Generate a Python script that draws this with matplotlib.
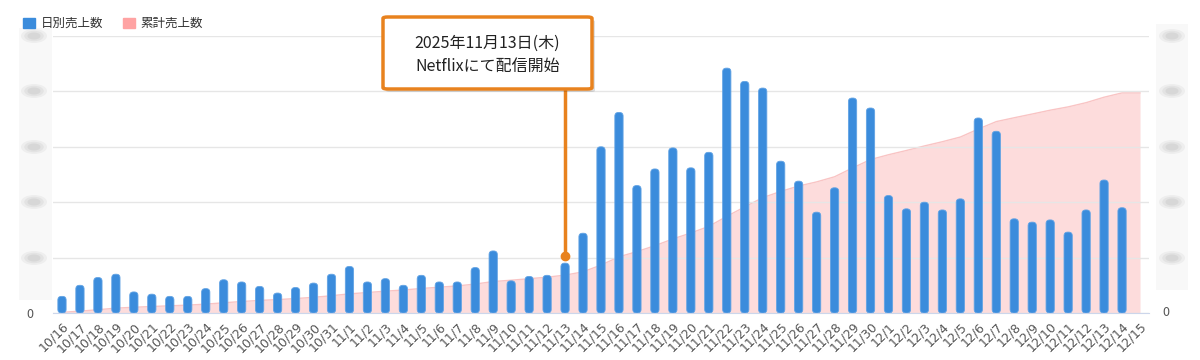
# -*- coding: utf-8 -*-

import numpy as np
import matplotlib
matplotlib.use("Agg")
import matplotlib.pyplot as plt
from matplotlib.patches import FancyBboxPatch, Patch, Ellipse, Rectangle

plt.rcParams["font.family"] = ["Noto Sans CJK JP", "DejaVu Sans"]

dates = [
    "10/16", "10/17", "10/18", "10/19", "10/20", "10/21", "10/22", "10/23",
    "10/24", "10/25", "10/26", "10/27", "10/28", "10/29", "10/30", "10/31",
    "11/1", "11/2", "11/3", "11/4", "11/5", "11/6", "11/7", "11/8", "11/9",
    "11/10", "11/11", "11/12", "11/13", "11/14", "11/15", "11/16", "11/17",
    "11/18", "11/19", "11/20", "11/21", "11/22", "11/23", "11/24", "11/25",
    "11/26", "11/27", "11/28", "11/29", "11/30", "12/1", "12/2", "12/3",
    "12/4", "12/5", "12/6", "12/7", "12/8", "12/9", "12/10", "12/11",
    "12/12", "12/13", "12/14", "12/15",
]
daily_sales = [
    15, 25, 32, 35, 19, 17, 15, 15, 22, 30, 28, 24, 18, 23, 27, 35,
    42, 28, 31, 25, 34, 28, 28, 41, 56, 29, 33, 34, 45, 72, 150, 181,
    115, 130, 149, 131, 145, 221, 209, 203, 137, 119, 91, 113, 194, 185,
    106, 94, 100, 93, 103, 176, 164, 85, 82, 84, 73, 93, 120, 95, 0,
]
# cumulative sales = running total of the daily numbers
total_sales = np.cumsum(daily_sales)

release_idx = dates.index("11/13")
note_text = "2025年11月13日(木)\nNetflixにて配信開始"

blue = "#3b8cdc"
pink_fill = "#fddcdc"
pink_edge = "#f9c4c4"
orange = "#e8821e"

fig = plt.figure(figsize=(12, 3.6), dpi=100)
ax = fig.add_axes([53 / 1200, 47 / 360, 1096 / 1200, 277 / 360])
ax2 = ax.twinx()

x = np.arange(len(dates))

# cumulative area on the right axis
ax2.fill_between(x, 0, total_sales, color=pink_fill, lw=0, zorder=1)
ax2.plot(x, total_sales, color=pink_edge, lw=1, zorder=1)
ax2.set_ylim(0, 6100)
ax2.set_yticks(np.linspace(0, 6100, 6))
ax2.set_yticklabels([])

# put bars on top of the area
ax.set_zorder(ax2.get_zorder() + 1)
ax.patch.set_visible(False)

ax.set_ylim(0, 250)
ax.set_xlim(-0.5, len(dates) - 0.5)
bars = ax.bar(x, daily_sales, width=0.46, color=blue, zorder=3)

# rounded bar ends
bbox = ax.get_window_extent()
aspect = (250 / bbox.height) / (len(dates) / bbox.width)
for r in bars:
    r.set_visible(False)
    if r.get_height() <= 0:
        continue
    ax.add_patch(FancyBboxPatch((r.get_x(), r.get_y()), r.get_width(),
                                r.get_height(),
                                boxstyle="round,pad=0,rounding_size=0.2",
                                mutation_aspect=aspect, fc=blue,
                                ec="#62a3e4", lw=0.6, zorder=3))

ax.set_yticks(np.arange(0, 251, 50))
ax.set_yticklabels(["0", "", "", "", "", ""])
ax.set_xticks(x)
ax.set_xticklabels(dates, rotation=45, ha="right", rotation_mode="anchor",
                   fontsize=8.5, color="#555555", family="DejaVu Sans")
ax.yaxis.grid(True, color="#e6e6e6", lw=1)
ax.set_axisbelow(True)

for a in (ax, ax2):
    for side in ("top", "left", "right"):
        a.spines[side].set_visible(False)
    a.spines["bottom"].set_color("#ccd6eb")
    a.tick_params(length=0, labelsize=9, colors="#555555")
ax.tick_params(axis="x", pad=5)
ax.tick_params(axis="y", pad=14)
ax2.spines["bottom"].set_visible(False)

# right axis "0" (the other labels are blurred in the original)
fig.text(1162 / 1200, 47 / 360, "0", ha="left", va="center", fontsize=9,
         color="#555555", zorder=20)

# blurred-out axis labels
for x0, y0, w, h in [(19, 60, 33, 272), (1156, 70, 32, 266)]:
    fig.patches.append(Rectangle((x0 / 1200, y0 / 360), w / 1200, h / 360,
                                 transform=fig.transFigure, color="#f8f8f8",
                                 lw=0, zorder=-1))
for xc in (34, 1172):
    for yc in (36, 91, 147, 202, 258):
        for k, al in ((1.0, 0.10), (0.75, 0.13), (0.5, 0.16)):
            fig.patches.append(Ellipse((xc / 1200, 1 - yc / 360),
                                       26 * k / 1200, 14 * k / 360,
                                       transform=fig.transFigure,
                                       color="#9a9a9a", alpha=al, lw=0,
                                       zorder=-0.5))

# release marker
dot_y = daily_sales[release_idx] + 6
ax.plot([release_idx, release_idx], [dot_y, 203], color=orange, lw=2.5,
        zorder=5, solid_capstyle="butt")
ax.plot(release_idx, dot_y, "o", color=orange, ms=6, zorder=6)

bx, by, bw, bh = 383, 89, 209, 72
fig.patches.append(FancyBboxPatch(((bx + 3) / 1200, 1 - (by + 3) / 360),
                                  bw / 1200, bh / 360,
                                  boxstyle="round,pad=0,rounding_size=0.004",
                                  transform=fig.transFigure, fc="#000000",
                                  alpha=0.12, lw=0, zorder=9))
fig.patches.append(FancyBboxPatch((bx / 1200, 1 - by / 360), bw / 1200, bh / 360,
                                  boxstyle="round,pad=0,rounding_size=0.004",
                                  transform=fig.transFigure, fc="white",
                                  ec=orange, lw=2.5, zorder=10))
fig.text((bx + bw / 2) / 1200, 1 - (by - bh / 2 + 2) / 360, note_text,
         ha="center", va="center", fontsize=11.5, color="#222222",
         linespacing=1.45, zorder=11)

handles = [Patch(facecolor=blue, edgecolor=blue),
           Patch(facecolor="#ffa3a3", edgecolor="#ffa3a3")]
fig.legend(handles, ["日別売上数", "累計売上数"], loc="upper left",
           bbox_to_anchor=(12 / 1200, 1 - 6 / 360), ncol=2, frameon=False,
           fontsize=9, handlelength=0.9, handleheight=0.9, handletextpad=0.5,
           columnspacing=1.6, labelcolor="#333333")

fig.savefig("out.png", dpi=100)
